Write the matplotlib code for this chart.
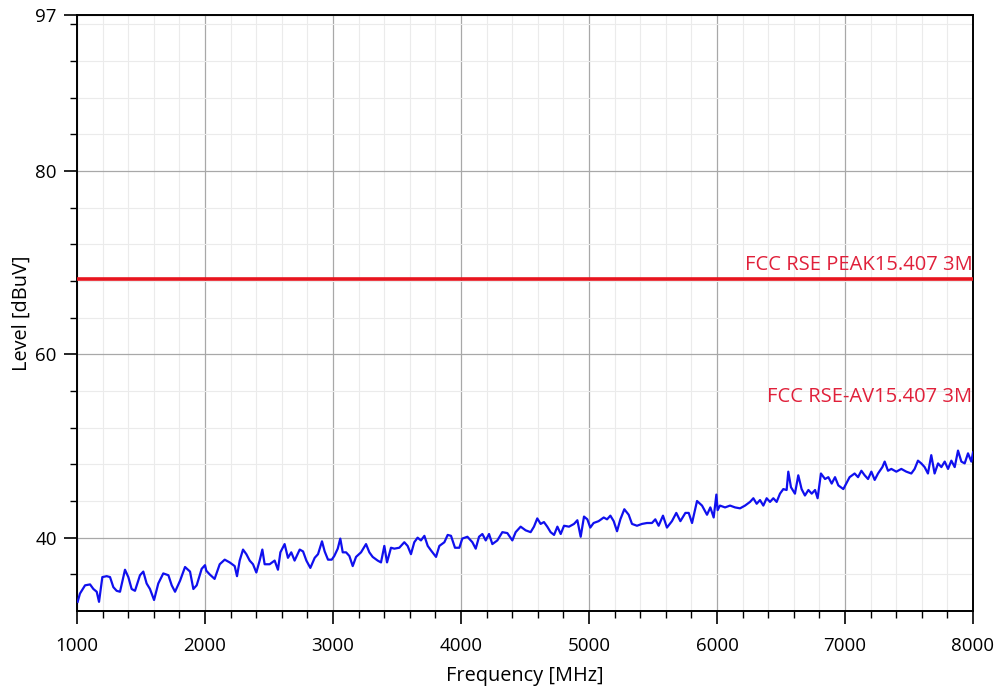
import numpy as np
import matplotlib
matplotlib.use("Agg")
import matplotlib.pyplot as plt
from matplotlib.ticker import MultipleLocator, FixedLocator

plt.rcParams['font.family'] = ['Open Sans', 'DejaVu Sans']

freq = [1005, 1023, 1063, 1102, 1128, 1154, 1172, 1198, 1232, 1258, 1284, 1310, 1336,
        1375, 1401, 1427, 1453, 1492, 1518, 1544, 1570, 1602, 1635, 1674, 1714, 1740,
        1766, 1805, 1844, 1883, 1909, 1935, 1974,
        2000, 2010, 2036, 2075, 2115, 2154, 2193, 2232, 2250, 2271, 2297, 2323, 2349,
        2375, 2401, 2427, 2448, 2466, 2505, 2544, 2570, 2589, 2622, 2648, 2674, 2700,
        2740, 2766, 2792, 2823, 2857, 2883, 2914, 2935, 2961, 2990,
        3010, 3037, 3057, 3076, 3102, 3128, 3154, 3180, 3219, 3258, 3284, 3310, 3349,
        3375, 3401, 3422, 3453, 3479, 3518, 3557, 3583, 3609, 3635, 3661, 3687, 3714,
        3740, 3766, 3805, 3831, 3870, 3896, 3922, 3953, 3987,
        4010, 4050, 4089, 4115, 4141, 4167, 4193, 4219, 4245, 4284, 4323, 4362, 4401,
        4427, 4466, 4505, 4544, 4570, 4596, 4622, 4648, 4674, 4700, 4727, 4753, 4779,
        4805, 4844, 4883, 4909, 4935, 4961, 4987,
        5010, 5036, 5075, 5115, 5141, 5167, 5193, 5219, 5245, 5276, 5310, 5336, 5375,
        5414, 5453, 5492, 5518, 5544, 5578, 5609, 5648, 5682, 5714, 5753, 5779, 5805,
        5844, 5883, 5922, 5948, 5974, 5995,
        6005, 6023, 6063, 6102, 6141, 6180, 6219, 6258, 6284, 6310, 6336, 6362, 6388,
        6414, 6440, 6466, 6492, 6518, 6544, 6557, 6578, 6609, 6635, 6661, 6687, 6714,
        6740, 6766, 6786, 6812, 6844, 6870, 6896, 6922, 6948, 6987,
        7010, 7036, 7075, 7102, 7128, 7154, 7180, 7206, 7232, 7258, 7292, 7310, 7336,
        7362, 7401, 7440, 7479, 7518, 7544, 7570, 7596, 7622, 7648, 7674, 7700, 7727,
        7753, 7779, 7805, 7831, 7857, 7883, 7909, 7935, 7961, 7987, 8000]
level = [33.0, 33.9, 34.8, 34.9, 34.4, 34.1, 33.0, 35.7, 35.8, 35.7, 34.6, 34.2, 34.1,
         36.5, 35.7, 34.4, 34.2, 35.9, 36.3, 35.0, 34.4, 33.2, 35.0, 36.1, 35.9, 34.8,
         34.1, 35.3, 36.8, 36.3, 34.4, 34.8, 36.6,
         37.0, 36.4, 36.0, 35.5, 37.1, 37.6, 37.3, 36.9, 35.8, 37.5, 38.7, 38.2, 37.5,
         37.1, 36.2, 37.5, 38.7, 37.1, 37.1, 37.5, 36.5, 38.4, 39.3, 37.8, 38.4, 37.5,
         38.7, 38.5, 37.5, 36.7, 37.8, 38.2, 39.6, 38.5, 37.6, 37.6,
         38.0, 38.8, 39.9, 38.4, 38.4, 38.0, 36.9, 37.9, 38.4, 39.3, 38.4, 37.9, 37.5,
         37.3, 39.1, 37.3, 38.9, 38.8, 38.9, 39.5, 39.1, 38.2, 39.5, 40.0, 39.7, 40.2,
         39.1, 38.6, 37.9, 39.1, 39.5, 40.3, 40.2, 38.9, 38.9,
         39.9, 40.1, 39.5, 38.8, 40.1, 40.4, 39.7, 40.4, 39.3, 39.7, 40.6, 40.5, 39.7,
         40.6, 41.2, 40.8, 40.6, 41.2, 42.1, 41.5, 41.7, 41.2, 40.6, 40.3, 41.2, 40.4,
         41.3, 41.2, 41.5, 41.9, 40.1, 42.3, 42.0,
         41.1, 41.6, 41.8, 42.2, 42.0, 42.4, 41.8, 40.7, 42.0, 43.1, 42.5, 41.5, 41.3,
         41.5, 41.6, 41.6, 42.0, 41.3, 42.4, 41.1, 41.8, 42.7, 41.8, 42.7, 42.7, 41.6,
         44.0, 43.5, 42.5, 43.3, 42.2, 44.7,
         43.0, 43.5, 43.3, 43.5, 43.3, 43.2, 43.5, 43.9, 44.3, 43.7, 44.1, 43.5, 44.3,
         43.9, 44.3, 43.9, 44.8, 45.3, 45.2, 47.2, 45.5, 44.8, 46.8, 45.3, 44.6, 45.2,
         44.8, 45.2, 44.3, 47.0, 46.4, 46.6, 45.9, 46.6, 45.7, 45.3,
         45.9, 46.6, 47.0, 46.6, 47.3, 46.8, 46.4, 47.2, 46.3, 47.0, 47.7, 48.3, 47.3,
         47.5, 47.2, 47.5, 47.2, 47.0, 47.5, 48.4, 48.1, 47.7, 47.0, 49.0, 47.0, 48.1,
         47.7, 48.3, 47.5, 48.4, 47.7, 49.5, 48.3, 48.1, 49.2, 48.3, 49.3]

peak_limit = 68.2
peak_name = "FCC RSE PEAK15.407 3M"
av_name = "FCC RSE-AV15.407 3M"
av_label_y = 55.3

fig = plt.figure(figsize=(10, 6.9), dpi=100)
ax = fig.add_axes([0.077, 0.1145, 0.896, 0.8635])

ax.plot(freq, level, c='#1010ee', lw=1.6, zorder=5)
ax.plot([1000, 8000], [peak_limit, peak_limit], c='#e8141e', lw=2.6, zorder=6)

ax.text(7995, peak_limit + 0.45, peak_name, color='#e0203a', fontsize=14.5,
        ha='right', va='bottom', zorder=7)
ax.text(7995, av_label_y, av_name, color='#e0203a', fontsize=14.5,
        ha='right', va='center', zorder=7)

ax.set_xlim(1000, 8000)
ax.set_ylim(32, 97)
ax.xaxis.set_major_locator(MultipleLocator(1000))
ax.xaxis.set_minor_locator(MultipleLocator(200))
ax.yaxis.set_major_locator(FixedLocator([40, 60, 80, 97]))
ax.yaxis.set_minor_locator(FixedLocator([36, 44, 48, 52, 56, 64, 68, 72, 76, 84, 88, 92, 96]))

ax.grid(which='major', color='#a8a8a8', lw=0.9)
ax.grid(which='minor', color='#ebebeb', lw=0.8)
ax.set_axisbelow(True)

ax.tick_params(which='major', length=9.5, width=1.2, labelsize=13.5)
ax.tick_params(axis='x', which='major', pad=9)
ax.tick_params(axis='y', which='major', pad=5)
ax.tick_params(which='minor', length=5, width=1.0)
for s in ax.spines.values():
    s.set_linewidth(1.4)

ax.set_xlabel("Frequency [MHz]", fontsize=14.3, labelpad=8)
ax.set_ylabel("Level [dBuV]", fontsize=14.3, labelpad=2.5)

plt.savefig('out.png', dpi=100)
